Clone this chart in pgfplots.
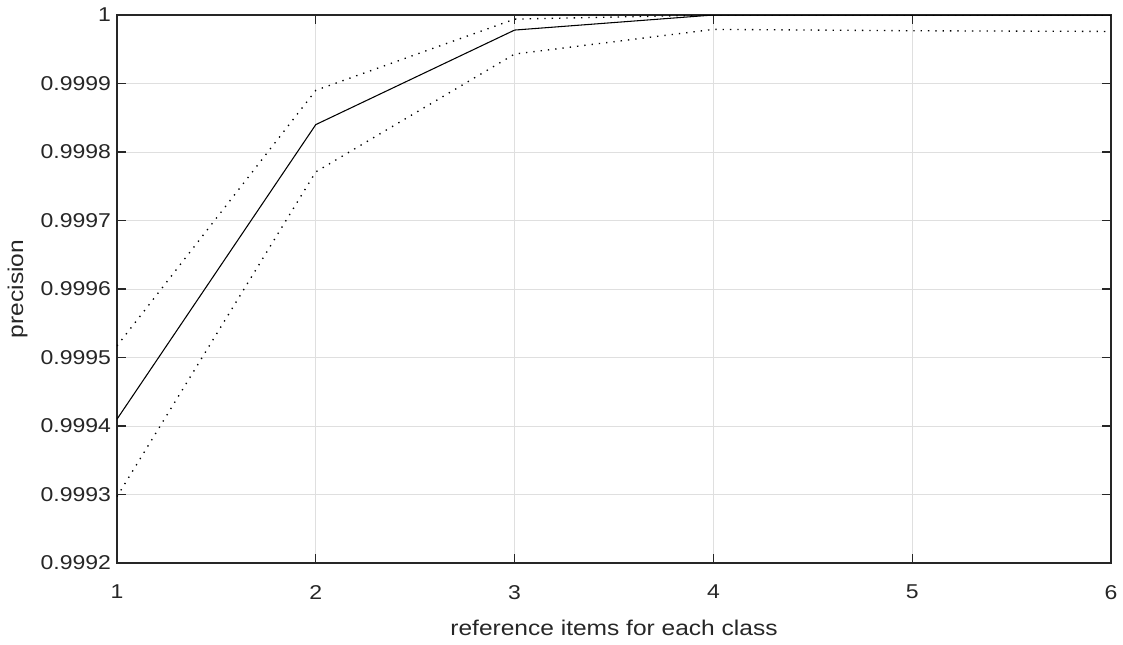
\documentclass[border=0pt]{standalone}
\usepackage{fontspec}
\setmainfont{Liberation Sans}[FakeStretch=1.15]
\usepackage{pgfplots}
\pgfplotsset{compat=1.18}
\definecolor{axcol}{RGB}{38,38,38}
\definecolor{gridcol}{RGB}{223,223,223}
\begin{document}
\begin{tikzpicture}
\begin{axis}[
  scale only axis,
  width=745.5pt, height=411pt,
  xmin=1, xmax=6, ymin=0.9992, ymax=1,
  xtick={1,2,3,4,5,6},
  ytick={0.9992,0.9993,0.9994,0.9995,0.9996,0.9997,0.9998,0.9999,1},
  yticklabels={0.9992,0.9993,0.9994,0.9995,0.9996,0.9997,0.9998,0.9999,1},
  scaled y ticks=false,
  /pgf/number format/assume math mode=true,
  tick label style={color=axcol, font=\fontsize{15}{17}\selectfont},
  label style={font=\fontsize{16}{18}\selectfont},
  xticklabel style={yshift=-13pt},
  yticklabel style={xshift=-1pt},
  grid=major,
  major grid style={color=gridcol, line width=0.75pt},
  axis line style={color=axcol, line width=0.8pt},
  tick style={color=axcol, line width=0.8pt},
  tick align=inside,
  major tick length=7pt,
  xtick pos=both, ytick pos=both,
  xlabel={reference items for each class},
  ylabel={precision},
  xlabel style={color=axcol, yshift=-9pt},
  ylabel style={color=axcol, yshift=3pt},
]
\addplot[black, line width=0.8pt] coordinates {
 (1,0.999410) (2,0.999840) (3,0.999978) (4,1.0) (5,1.0) (6,1.0)};
\addplot[black, line width=1pt, dash pattern=on 1pt off 4.5pt] coordinates {
 (1,0.999517) (2,0.999890) (3,0.999994) (4,1.0) (5,1.0) (6,1.0)};
\addplot[black, line width=1pt, dash pattern=on 1pt off 4.5pt] coordinates {
 (1,0.999297) (2,0.999771) (3,0.999943) (4,0.999979) (5,0.999977) (6,0.999976)};
\end{axis}
\pgfresetboundingbox
\path[use as bounding box] (current axis.south west) ++(-87.75pt,-60.75pt) rectangle ++(842.25pt,483pt);
\end{tikzpicture}
\end{document}
